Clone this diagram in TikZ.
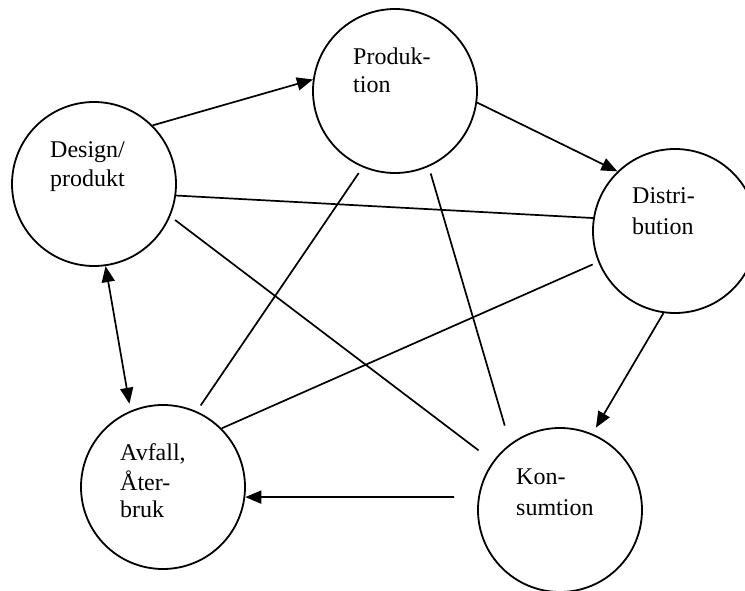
\documentclass[tikz,border=0pt]{standalone}
\usepackage{fontspec}
\setmainfont{Liberation Serif}
\usetikzlibrary{arrows.meta}
\begin{document}
\begin{tikzpicture}[x=1pt,y=-1pt,
  stage/.style={circle,draw,line width=1.8pt,minimum size=164pt,inner sep=0pt},
  lbl/.style={anchor=base west,inner sep=0pt,font=\fontsize{24}{29}\selectfont},
  link/.style={line width=1.7pt},
  arr/.style={link,-{Triangle[length=16pt,width=13pt]}},
  darr/.style={link,{Triangle[length=16pt,width=13pt]}-{Triangle[length=16pt,width=13pt]}}]
\useasboundingbox (0,0) rectangle (745,591);
\clip (0,0) rectangle (745,591);
\node[stage] (des) at (94,184) {};
\node[stage] (pro) at (395,91) {};
\node[stage] (dis) at (675,231) {};
\node[stage] (kon) at (560,510) {};
\node[stage] (avf) at (163,487) {};
% labels
\node[lbl] (des1) at (50,158) {Design/};
\node[lbl] (des2) at (50,187) {produkt};
\node[lbl] (pro1) at (353,65) {Produk-};
\node[lbl] (pro2) at (353,93) {tion};
\node[lbl] (dis1) at (632,204) {Distri-};
\node[lbl] (dis2) at (632,234) {bution};
\node[lbl] (kon1) at (516,484) {Kon-};
\node[lbl] (kon2) at (516,515) {sumtion};
\node[lbl] (avf1) at (120,460) {Avfall,};
\node[lbl] (avf2) at (120,490) {Åter-};
\node[lbl] (avf3) at (120,517) {bruk};
% arrows
\draw[arr] (des.45) -- (pro.172);
\draw[arr] (pro.-8) -- (dis.134.5);
\draw[arr,shorten >=7pt] (dis.-98) -- (kon.67);
\draw[arr,shorten <=24pt] (kon.171.6) -- (avf.-7.5);
\draw[darr,shorten >=7pt] (des.-82.5) -- (avf.113.7);
% plain links
\draw[link] (des.-8.4) -- (dis.171);
\draw[link,shorten <=6pt,shorten >=18pt] (des.-23.4) -- (kon.144.7);
\draw[link,shorten <=7pt,shorten >=7pt] (pro.247.5) -- (avf.66.9);
\draw[link,shorten <=7pt,shorten >=19pt] (pro.-66.3) -- (kon.127);
\draw[link,shorten <=6pt] (dis.202.8) -- (avf.45);
\end{tikzpicture}
\end{document}
